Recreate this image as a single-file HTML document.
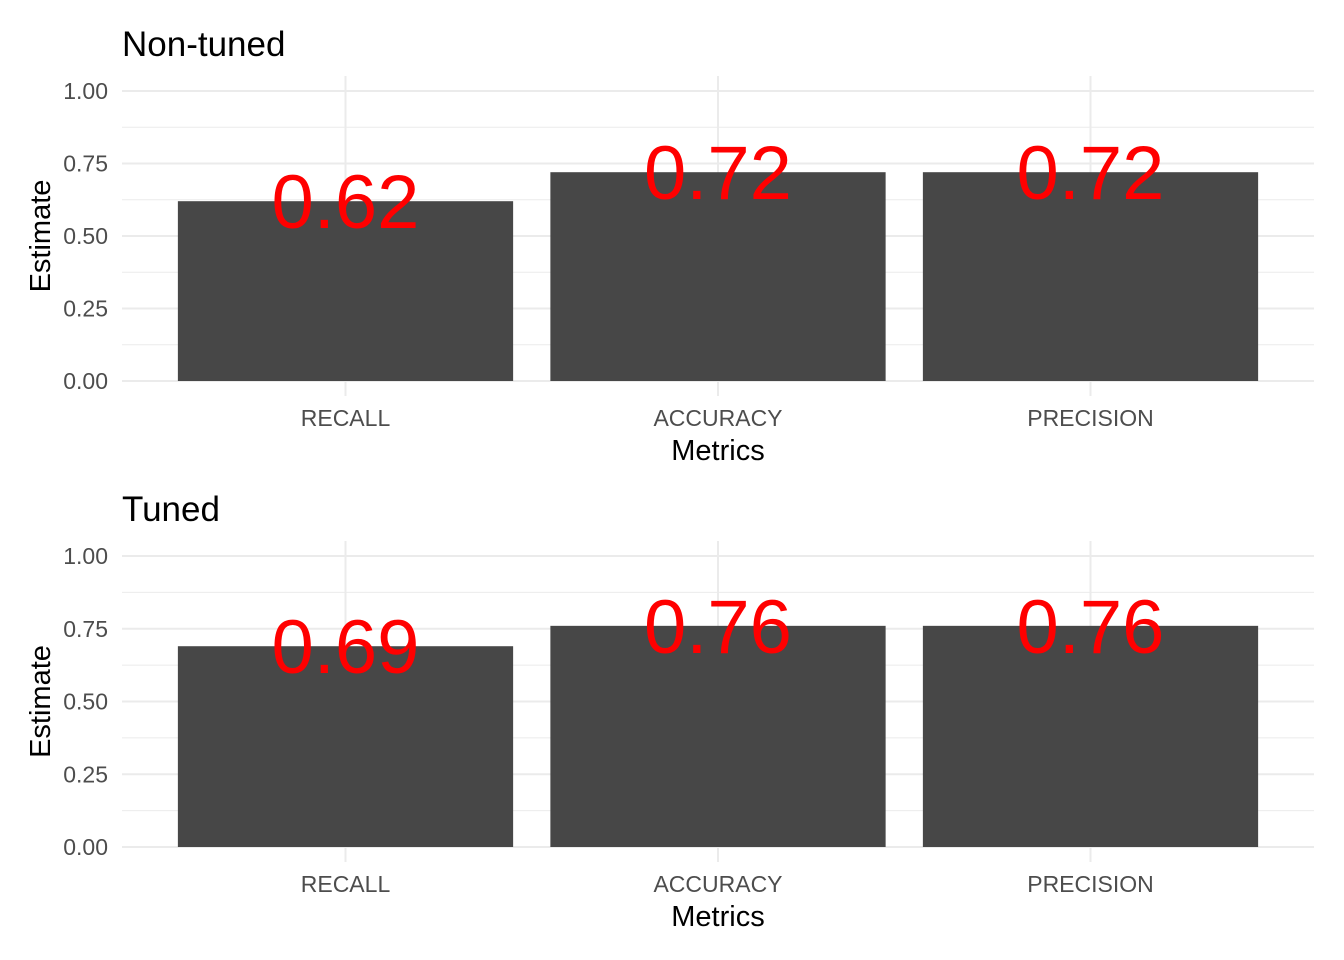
<!DOCTYPE html>
<html><head><meta charset="utf-8"><style>
html,body{margin:0;padding:0;background:#fff;}
svg{display:block;font-family:"Liberation Sans",Arial,sans-serif;}
</style></head><body>
<svg id="chart" width="1344" height="960"></svg>
<script>
const categories = ["RECALL","ACCURACY","PRECISION"];
const nonTunedValues = [0.62, 0.72, 0.72];
const tunedValues = [0.69, 0.76, 0.76];
const valueLabelsNonTuned = ["0.62","0.72","0.72"];
const valueLabelsTuned = ["0.69","0.76","0.76"];
const yTicks = [0, 0.25, 0.5, 0.75, 1];
const yTickLabels = ["0.00","0.25","0.50","0.75","1.00"];
const panelTitles = ["Non-tuned","Tuned"];

const NS = "http://www.w3.org/2000/svg";
const svg = document.getElementById('chart');
function mk(tag, attrs, parent){const e=document.createElementNS(NS,tag);for(const k in attrs)e.setAttribute(k,attrs[k]);(parent||svg).appendChild(e);return e;}

function panel(idx, values, labels, y0, y1, top, bottom){
  const g = mk('g',{});
  
  
  const xL=122, xR=1314;
  const unit=(xR-xL)/(categories.length-1+1.2);
  const yScale=v=>y0+(y1-y0)*v;
  const xCenter=i=>xL+unit*(i+0.6);
  for(let i=0;i<yTicks.length-1;i++){
    const v=(yTicks[i]+yTicks[i+1])/2;
    const l=mk('line',{x1:xL,x2:xR,y1:yScale(v),y2:yScale(v),stroke:'#ebebeb','stroke-width':1},g);
    
    
  }
  yTicks.forEach((v,i)=>{
    const l=mk('line',{x1:xL,x2:xR,y1:yScale(v),y2:yScale(v),stroke:'#ebebeb','stroke-width':2},g);
    
    
    const t=mk('text',{x:108,y:yScale(v)+8,'text-anchor':'end','font-size':23,fill:'#4d4d4d'},g);
    t.textContent=yTickLabels[i];
    
    
  });
  categories.forEach((c,i)=>{
    const l=mk('line',{x1:xCenter(i),x2:xCenter(i),y1:top,y2:bottom,stroke:'#ebebeb','stroke-width':2},g);
    
    
  });
  categories.forEach((c,i)=>{
    const w=unit*0.9;
    const r=mk('rect',{x:xCenter(i)-w/2,y:yScale(values[i]),width:w,height:yScale(0)-yScale(values[i]),fill:'#474747'},g);
    
    
    const t=mk('text',{x:xCenter(i),y:yScale(values[i])+27,'text-anchor':'middle','font-size':76,fill:'#ff0000'},g);
    t.textContent=labels[i];
    
    
    const xt=mk('text',{x:xCenter(i),y:bottom+30,'text-anchor':'middle','font-size':23,fill:'#4d4d4d'},g);
    xt.textContent=c;
    
    
  });
  const ti=mk('text',{x:122,y:top-20,'font-size':35,fill:'#000'},g);
  ti.textContent=panelTitles[idx];
  
  
  const xa=mk('text',{x:718,y:bottom+64,'text-anchor':'middle','font-size':29,fill:'#000'},g);
  xa.textContent='Metrics';
  
  
  const cy=(top+bottom)/2;
  const ya=mk('text',{x:0,y:0,'text-anchor':'middle','font-size':29,fill:'#000',transform:`translate(50,${cy}) rotate(-90)`},g);
  ya.textContent='Estimate';
  
  
}
panel(0, nonTunedValues, valueLabelsNonTuned, 381, 91, 76, 396);
panel(1, tunedValues, valueLabelsTuned, 847, 556, 541, 862);
</script>
</body></html>
